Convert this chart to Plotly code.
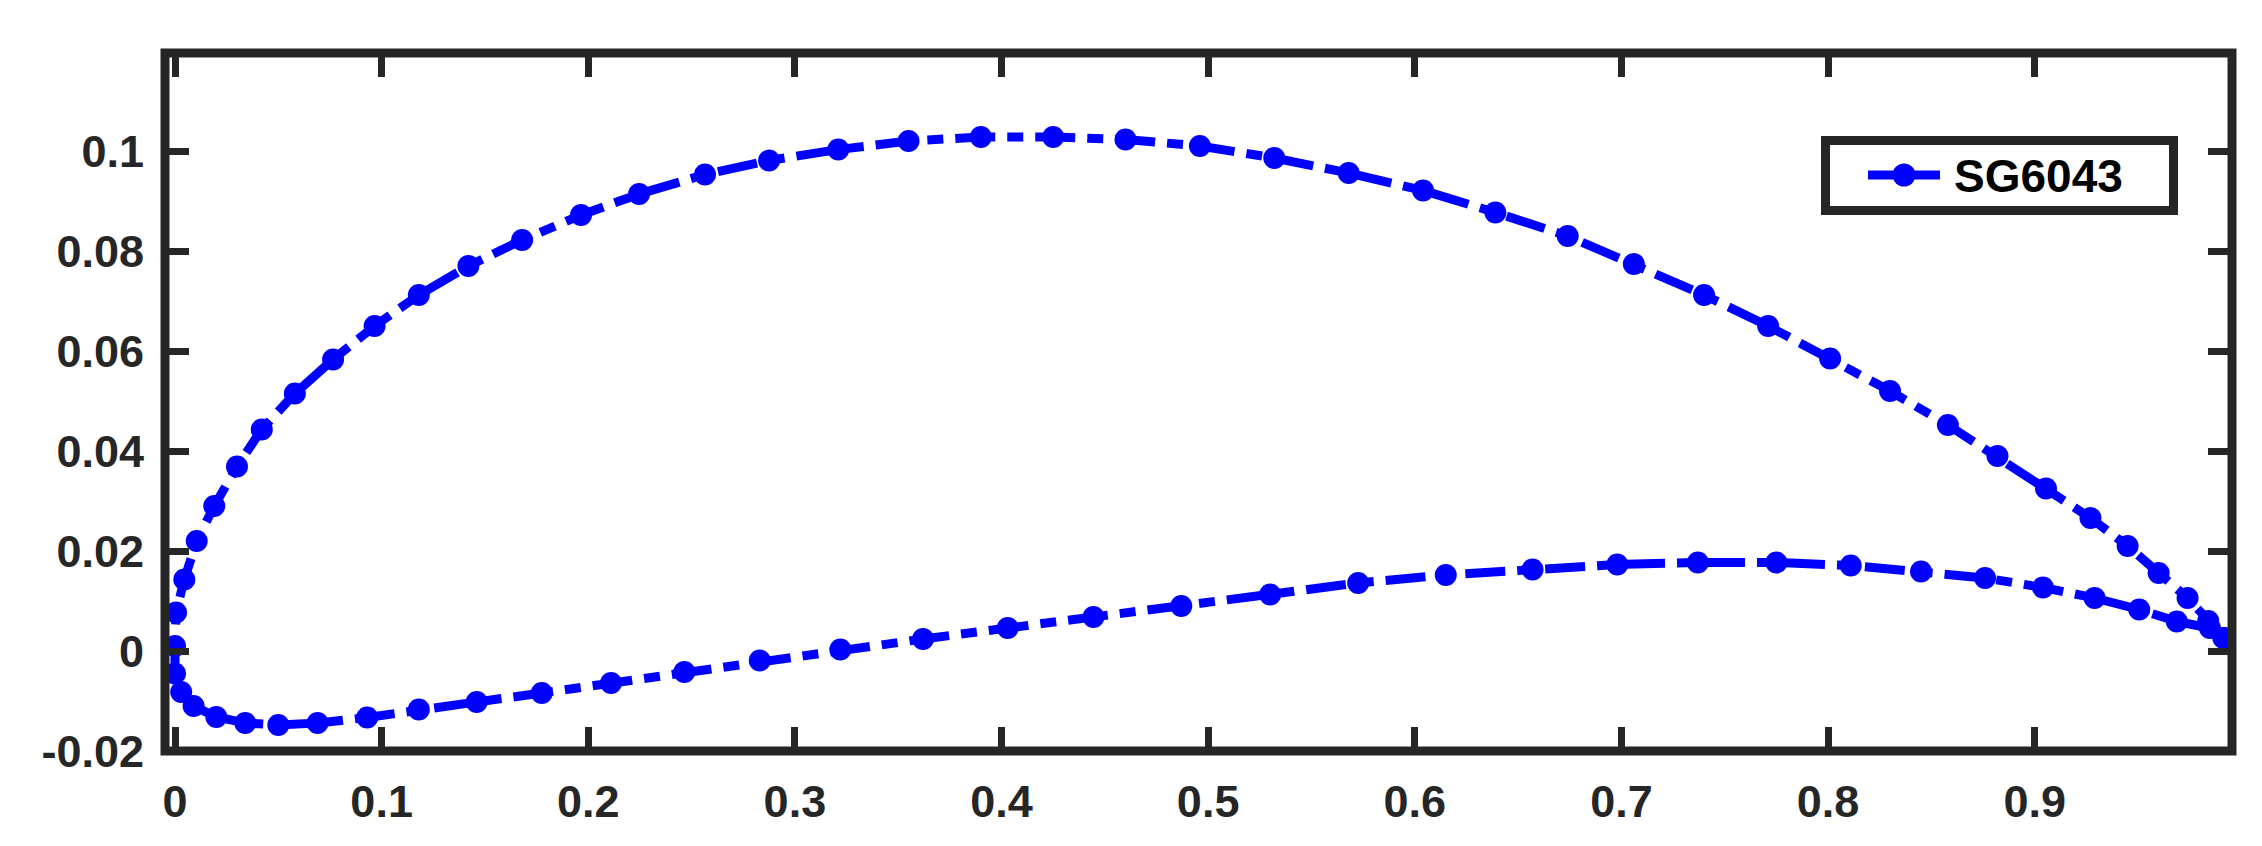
import plotly.graph_objects as go

# SG6043 airfoil outline (Selig order: TE -> upper -> LE -> lower -> TE)
upper_x = [0.992, 0.984, 0.974, 0.960, 0.945, 0.927, 0.9055, 0.882, 0.858, 0.830,
           0.801, 0.771, 0.740, 0.706, 0.674, 0.639, 0.604, 0.568, 0.532, 0.496,
           0.460, 0.425, 0.390, 0.355, 0.321, 0.2875, 0.2565, 0.2246, 0.1965, 0.168,
           0.142, 0.118, 0.0966, 0.0765, 0.058, 0.042, 0.030, 0.019, 0.0105, 0.0045,
           0.0005, 0.0]
upper_y = [0.0026, 0.0060, 0.0106, 0.0156, 0.0210, 0.0266, 0.0325, 0.0390, 0.0452, 0.0520,
           0.0585, 0.0650, 0.0712, 0.0774, 0.0830, 0.0877, 0.0921, 0.0956, 0.0986, 0.1010,
           0.1023, 0.1028, 0.1028, 0.1020, 0.1003, 0.0981, 0.0953, 0.0914, 0.0872, 0.0822,
           0.0770, 0.0712, 0.0650, 0.0583, 0.0515, 0.0443, 0.0369, 0.0290, 0.0220, 0.0143,
           0.0077, 0.0010]

lower_x = [0.0, 0.003, 0.009, 0.020, 0.034, 0.050, 0.069, 0.093, 0.118, 0.146,
           0.1775, 0.211, 0.2465, 0.283, 0.322, 0.362, 0.403, 0.4445, 0.487, 0.530,
           0.5726, 0.615, 0.657, 0.698, 0.737, 0.775, 0.811, 0.845, 0.876, 0.904,
           0.929, 0.9506, 0.9688, 0.9848, 0.9913]
lower_y = [-0.0045, -0.0082, -0.0110, -0.0132, -0.0144, -0.0148, -0.0144, -0.0133, -0.0117, -0.0102,
           -0.0084, -0.0064, -0.0042, -0.0019, 0.0003, 0.0024, 0.0046, 0.0068, 0.0090, 0.0113,
           0.0136, 0.0152, 0.0163, 0.0173, 0.0177, 0.0177, 0.0171, 0.0159, 0.0146, 0.0127,
           0.0106, 0.0083, 0.0059, 0.0046, 0.0026]

series_name = "SG6043"
x_ticks = [0, 0.1, 0.2, 0.3, 0.4, 0.5, 0.6, 0.7, 0.8, 0.9]
x_labels = ["0", "0.1", "0.2", "0.3", "0.4", "0.5", "0.6", "0.7", "0.8", "0.9"]
y_ticks = [-0.02, 0, 0.02, 0.04, 0.06, 0.08, 0.1]
y_labels = ["-0.02", "0", "0.02", "0.04", "0.06", "0.08", "0.1"]

W, H = 2262, 846
L, R, T, B = 157, 2224, 45, 743   # plot box edges in pixels (MATLAB-style frame)
dark = "#262626"
blue = "#0000FF"
font_family = "Liberation Sans, Arial, sans-serif"
tick_font = dict(family=font_family, size=45, color=dark, weight="bold")
dash = "40px,12px,16px,12px"


def px(x):
    return (x - L) / (R - L)


def py(y):
    return (B - y) / (B - T)


fig = go.Figure()
fig.add_trace(go.Scatter(
    x=upper_x + lower_x, y=upper_y + lower_y,
    mode="lines+markers", name=series_name,
    line=dict(color=blue, width=9, dash=dash),
    marker=dict(color=blue, size=22),
))

axis_common = dict(
    showgrid=False, zeroline=False, showline=False,
    mirror="allticks", ticks="inside", ticklen=24, tickwidth=7, tickcolor=dark,
    tickfont=tick_font,
)
fig.update_xaxes(range=[(L - 167) / 2066.3, (R - 167) / 2066.3],
                 tickvals=x_ticks, ticktext=x_labels, ticklabelstandoff=20, **axis_common)
fig.update_yaxes(range=[-0.02, 0.1196],
                 tickvals=y_ticks, ticktext=y_labels, ticklabelstandoff=20, **axis_common)

shapes = [
    # axes box
    dict(type="rect", xref="paper", yref="paper", x0=0, x1=1, y0=0, y1=1,
         line=dict(color=dark, width=9), layer="above"),
    # legend box
    dict(type="rect", xref="paper", yref="paper",
         x0=px(1817.5), x1=px(2165.5), y0=py(202.5), y1=py(132.5),
         fillcolor="white", line=dict(color=dark, width=9), layer="above"),
    # legend line sample
    dict(type="line", xref="paper", yref="paper",
         x0=px(1860), x1=px(1932), y0=py(167), y1=py(167),
         line=dict(color=blue, width=9), layer="above"),
    # legend marker
    dict(type="circle", xref="paper", yref="paper",
         xsizemode="pixel", ysizemode="pixel",
         xanchor=px(1896), yanchor=py(167), x0=-11.5, x1=11.5, y0=-11.5, y1=11.5,
         fillcolor=blue, line=dict(color=blue, width=0), layer="above"),
]

fig.update_layout(
    width=W, height=H,
    margin=dict(l=L, r=W - R, t=T, b=H - B),
    paper_bgcolor="white", plot_bgcolor="white",
    showlegend=False,
    shapes=shapes,
    annotations=[dict(
        text=series_name, xref="paper", yref="paper",
        x=px(1944), y=py(168), xanchor="left", yanchor="middle", showarrow=False,
        font=dict(family=font_family, size=46, color="black", weight="bold"),
    )],
)

fig.write_html("out.html")
